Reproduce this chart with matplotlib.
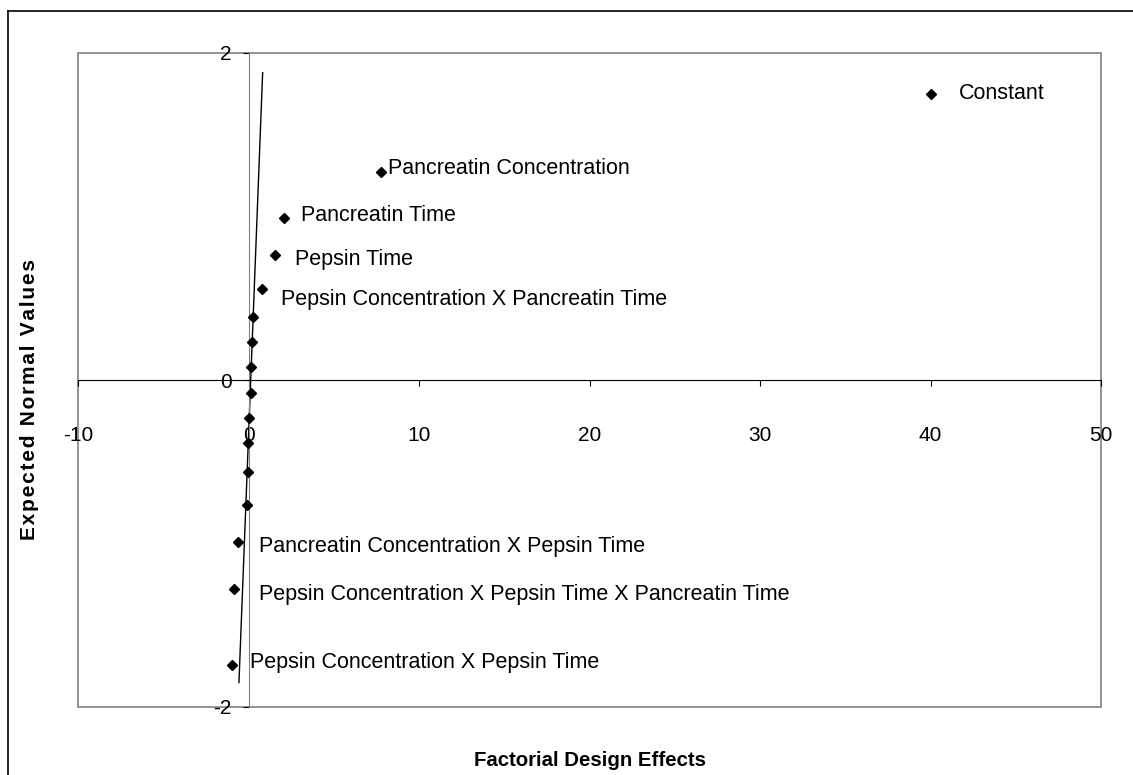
import matplotlib.pyplot as plt
from matplotlib.lines import Line2D
from matplotlib.patches import Rectangle

plt.rcParams['font.family'] = ['Liberation Sans', 'DejaVu Sans']
plt.rcParams['axes.unicode_minus'] = False

# effect estimates and their expected normal scores
effects = [40.0, 7.75, 2.08, 1.55, 0.81, 0.28, 0.22, 0.15,
           0.15, 0.05, -0.05, -0.05, -0.10, -0.60, -0.85, -0.95]
normal_vals = [1.75, 1.27, 0.99, 0.765, 0.557, 0.387, 0.231, 0.081,
               -0.081, -0.23, -0.387, -0.561, -0.765, -0.989, -1.28, -1.743]
names = ["Constant", "Pancreatin Concentration", "Pancreatin Time", "Pepsin Time",
         "Pepsin Concentration X Pancreatin Time", "", "", "",
         "", "", "", "", "",
         "Pancreatin Concentration X Pepsin Time",
         "Pepsin Concentration X Pepsin Time X Pancreatin Time",
         "Pepsin Concentration X Pepsin Time"]
# label offsets (pixels) from each point
label_dx = [28, 7, 17, 20, 19, 0, 0, 0, 0, 0, 0, 0, 0, 21, 25, 18]
label_dy = [0, 4, 3, -5, -11, 0, 0, 0, 0, 0, 0, 0, 0, -5, -5, 2]

# reference line through the small effects
line_x = [0.83, -0.56]
line_y = [1.88, -1.85]

x_ticks = [-10, 0, 10, 20, 30, 40, 50]
y_ticks = [-2, 0, 2]

fig = plt.figure(figsize=(11.33, 7.75), dpi=100)
ax = fig.add_axes([78 / 1133, 1 - 707 / 775, 1023 / 1133, 654 / 775])
ax.set_xlim(-10, 50)
ax.set_ylim(-2, 2)

# axes cross at zero, plot area outlined in grey
for s in ['top', 'right']:
    ax.spines[s].set_visible(False)
ax.spines['left'].set_position(('data', 0))
ax.spines['bottom'].set_position(('data', 0))
ax.spines['left'].set_color('#808080')
ax.spines['bottom'].set_color('black')
ax.add_patch(Rectangle((0, 0), 1, 1, transform=ax.transAxes, fill=False,
                       edgecolor='#808080', lw=1.2, clip_on=False, zorder=0))

ax.set_xticks(x_ticks)
ax.set_yticks(y_ticks)
ax.tick_params(axis='x', direction='out', length=4, pad=29, labelsize=15, color='black')
ax.tick_params(axis='y', direction='out', length=4, pad=8, labelsize=15, color='black')

ax.plot(line_x, line_y, color='black', lw=1)
ax.plot(effects, normal_vals, linestyle='none', marker='D', ms=5.5,
        color='black', zorder=3, clip_on=False)

for x, y, name, dx, dy in zip(effects, normal_vals, names, label_dx, label_dy):
    if name:
        ax.annotate(name, (x, y), xytext=(dx, dy), textcoords='offset pixels',
                    ha='left', va='center', fontsize=15.5)

fig.text(590 / 1133, 1 - 761 / 775, "Factorial Design Effects", ha='center',
         va='center', fontsize=14.7, fontweight='bold')
ylab = "\u200a".join("Expected Normal Values")
fig.text(30 / 1133, 1 - 400 / 775, ylab, ha='center',
         va='center', rotation=90, fontsize=15, fontweight='bold')

# outer chart border, running off the right and bottom edges
fig.add_artist(Line2D([8 / 1133, 1.0], [1 - 11 / 775, 1 - 11 / 775],
                      transform=fig.transFigure, color='black', lw=1.2))
fig.add_artist(Line2D([8 / 1133, 8 / 1133], [1 - 11 / 775, 0.0],
                      transform=fig.transFigure, color='black', lw=1.2))

fig.savefig('out.png', dpi=100)
